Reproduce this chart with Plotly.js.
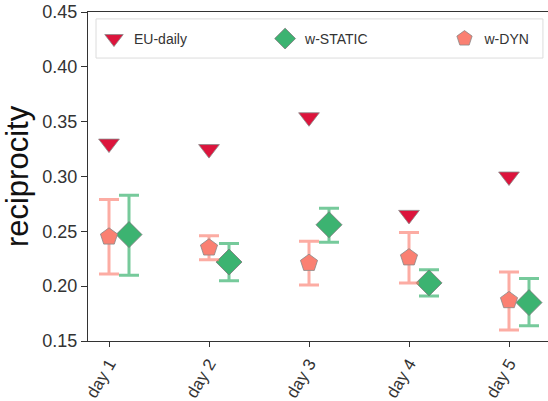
<!DOCTYPE html>
<html>
<head>
<meta charset="utf-8">
<script src="https://cdn.plot.ly/plotly-3.0.1.min.js"></script>
<style>html,body{margin:0;padding:0;background:#fff;}#chart{width:548px;height:401px;}</style>
</head>
<body>
<div id="chart"></div>
<script>
const days = ["day 1", "day 2", "day 3", "day 4", "day 5"];
const euDaily = [0.330, 0.325, 0.354, 0.265, 0.300];
const wDyn = [0.245, 0.235, 0.221, 0.226, 0.187];
const wDynUpper = [0.279, 0.246, 0.241, 0.249, 0.213];
const wDynLower = [0.211, 0.224, 0.201, 0.203, 0.160];
const wStatic = [0.247, 0.222, 0.256, 0.203, 0.185];
const wStaticUpper = [0.283, 0.239, 0.271, 0.215, 0.207];
const wStaticLower = [0.210, 0.205, 0.240, 0.191, 0.164];
const yTicks = [0.15, 0.20, 0.25, 0.30, 0.35, 0.40, 0.45];

const idx = days.map((d, i) => i);
const offset = 0.2;

const traces = [
  {
    name: "EU-daily", type: "scatter", mode: "markers", legend: "legend",
    x: idx, y: euDaily,
    marker: {symbol: "triangle-down", size: 18, color: "#DC143C", line: {color: "#888", width: 0.8}}
  },
  {
    name: "w-STATIC", type: "scatter", mode: "markers", legend: "legend2",
    x: idx.map(i => i + offset), y: wStatic,
    error_y: {type: "data", symmetric: false,
      array: wStatic.map((v, i) => wStaticUpper[i] - v),
      arrayminus: wStatic.map((v, i) => v - wStaticLower[i]),
      color: "rgba(60,179,113,0.7)", thickness: 3, width: 10},
    marker: {symbol: "diamond", size: 20, color: "#3CB371", line: {color: "#777", width: 0.8}}
  },
  {
    name: "w-DYN", type: "scatter", mode: "markers", legend: "legend3",
    x: idx, y: wDyn,
    error_y: {type: "data", symmetric: false,
      array: wDyn.map((v, i) => wDynUpper[i] - v),
      arrayminus: wDyn.map((v, i) => v - wDynLower[i]),
      color: "rgba(250,128,114,0.65)", thickness: 3, width: 10},
    marker: {symbol: "pentagon", size: 18, color: "#FA8072", line: {color: "#888", width: 0.8}}
  }
];

function leg(x) {
  return {
    orientation: "h", x: x, y: 0.918, xanchor: "left", yanchor: "middle",
    bgcolor: "rgba(0,0,0,0)", borderwidth: 0,
    font: {size: 14, color: "#333"}
  };
}

const layout = {
  width: 548, height: 401,
  margin: {l: 88, r: 0, t: 12, b: 60},
  paper_bgcolor: "#fff", plot_bgcolor: "#fff",
  font: {family: "Liberation Sans, Arial, sans-serif", color: "#333"},
  showlegend: true,
  legend: leg(0.013),
  legend2: leg(0.385),
  legend3: leg(0.775),
  shapes: [{
    type: "rect", xref: "paper", yref: "paper",
    x0: 0.0174, x1: 0.989, y0: 0.860, y1: 0.979,
    line: {color: "#dcdcdc", width: 1}, fillcolor: "rgba(255,255,255,0.8)", layer: "below"
  }],
  xaxis: {
    range: [-0.21, 4.39],
    tickvals: idx, ticktext: days, tickangle: -60,
    tickfont: {size: 17, color: "#333"},
    showgrid: false, zeroline: false,
    showline: true, linecolor: "#333", linewidth: 1.2, mirror: true,
    ticks: "outside", ticklen: 5, tickcolor: "#333"
  },
  yaxis: {
    range: [0.15, 0.45],
    tickvals: yTicks, ticktext: yTicks.map(v => v.toFixed(2)),
    tickfont: {size: 18, color: "#333"},
    title: {text: "reciprocity", font: {size: 31, color: "#111"}, standoff: 6},
    showgrid: false, zeroline: false,
    showline: true, linecolor: "#333", linewidth: 1.2,
    ticks: "outside", ticklen: 6, tickcolor: "#333"
  }
};

Plotly.newPlot("chart", traces, layout, {displayModeBar: false, staticPlot: true});
</script>
</body>
</html>
